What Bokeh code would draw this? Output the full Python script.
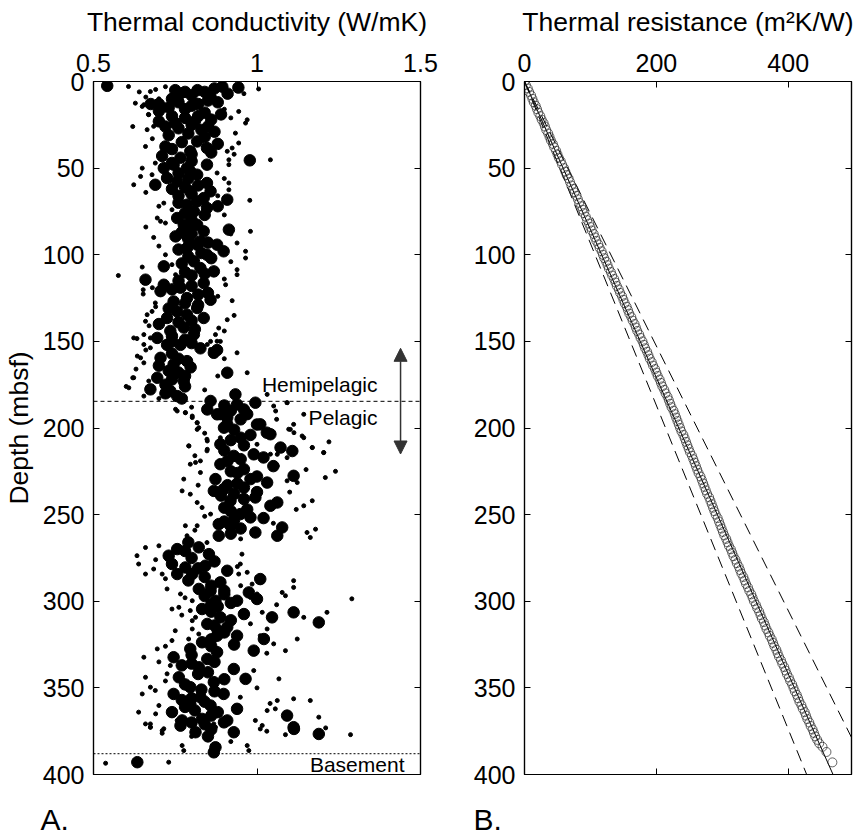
from bokeh.plotting import figure
from bokeh.layouts import row, column
from bokeh.models import (Range1d, LinearAxis, FixedTicker, Span, Label, Arrow,
                          NormalHead)
from bokeh.embed import file_html
from bokeh.resources import INLINE

FONT = "Liberation Sans"

# ---------------- Panel A data: thermal conductivity vs depth ----------------
# large symbols
big_depth = [
    2.5, 3, 3.5, 5, 6, 7, 5, 9, 8, 10, 6,
    13, 13, 15, 12, 16, 13, 18, 12, 20, 21, 23, 22, 19, 26, 27, 25, 28, 29, 30, 24,
    34.6, 37.5, 38.4, 40.3, 45.5, 48, 50, 48, 44, 50, 55.7, 57.7, 51.9, 53.8, 59.6,
    58.6, 63.4, 68.2, 63.4, 69.2, 67.3, 71.1, 75, 73, 78.8, 82.7, 82.7, 86.5, 92.3,
    85.5, 89.4, 96.1, 94.2, 100, 94.2, 98, 103.8, 107.7, 109.6, 106.7, 114.4, 116.3,
    117.3, 121, 119, 125, 127, 126, 136.5, 132.7, 134.6, 130.7, 136.5, 144, 142, 146,
    148, 152, 154, 155, 42, 61, 66, 77, 88, 101, 112, 123, 139, 150,
    152, 156.6, 159.5, 163.3, 161.4, 165, 168.1, 171, 177.7, 178.7, 181.6, 173, 168, 175,
    180.6, 184.4, 189.3, 192.1, 194, 186.4, 189.3, 185.4, 192, 198, 202.7, 199.8,
    205.6, 209.4, 211.3, 213.3, 215.2, 216.1,
    197.9, 203.6, 220.9, 223.8, 227.6, 231.5, 229.5, 229.5, 235.3, 234.4, 236.3, 242,
    240.1, 243, 244.9, 249.7, 251.6, 255.5, 256.4, 260.3, 257.4, 262.2, 262.2, 225,
    218, 246, 238, 253, 232, 192, 197.9,
    269.9, 273.7, 268.9, 272.8, 278.5, 280.5, 279.5, 282.4, 284.3, 284.3, 289.1, 287.2,
    293.9, 294.9, 298.7, 292.9, 299.7, 299.7, 304.5, 307.4, 309.3, 306.4, 312.2, 309.3,
    313.1, 315, 319.9, 319.9, 321.8, 323.7, 327.5, 329.4, 328.5, 332.3, 333.3, 338.1,
    339.1, 343.9, 344.8, 349.6, 346.7, 353.5, 355.4, 353.5, 359.2, 360.2, 362.1, 364,
    366, 368.8, 367.9, 368.8, 372.7,
    371.8, 375.6, 375.6, 369.9, 373.7, 376.6, 384.3, 387.2, 392.9, 296, 302, 317, 326,
    336, 341, 351, 357, 364, 371,
    4, 7, 11, 14, 17, 20, 23, 26, 31, 32, 35, 36, 39, 41, 43, 46, 47, 53, 56, 60,
    62, 65, 70, 72, 76, 80, 84, 87, 91, 93, 97, 99, 102, 105, 110, 111, 115, 118,
    120, 122, 128, 129, 131, 138, 140, 143, 147, 149, 151, 157, 160, 164, 167, 170,
    172, 176, 180, 183,
    187, 190, 195, 201, 204, 207, 210, 213, 217, 219, 222, 226, 228, 233, 237, 239,
    241, 247, 248, 252, 254, 258, 261,
    266, 271, 275, 277, 281, 286, 288, 291, 294, 297, 301, 303, 306, 311, 314, 318,
    322, 325, 331, 335, 337, 342, 345, 348, 352, 356, 358, 361, 363, 366, 370, 374, 378,
]
big_k = [
    0.542, 0.894, 0.943, 0.75, 0.78, 0.765, 0.818, 0.858, 0.80, 0.74, 0.84,
    0.675, 0.70, 0.73, 0.76, 0.78, 0.82, 0.84, 0.88, 0.74, 0.78, 0.81, 0.86, 0.89, 0.72, 0.76, 0.80, 0.83, 0.87, 0.79, 0.75,
    0.817, 0.72, 0.847, 0.796, 0.978, 0.847, 0.715, 0.745, 0.766, 0.786, 0.725, 0.756, 0.796, 0.817, 0.689,
    0.847, 0.858, 0.909, 0.796, 0.817, 0.837, 0.786, 0.807, 0.847, 0.756, 0.776, 0.817, 0.837, 0.827,
    0.914, 0.751, 0.786, 0.817, 0.847, 0.878, 0.898, 0.807, 0.827, 0.868, 0.715, 0.659, 0.837,
    0.715, 0.705, 0.766, 0.786, 0.745, 0.858, 0.725, 0.756, 0.786, 0.817, 0.837, 0.735, 0.776, 0.807,
    0.695, 0.766, 0.827, 0.878, 0.80, 0.78, 0.76, 0.84, 0.80, 0.79, 0.80, 0.82, 0.76, 0.74,
    0.725, 0.868, 0.705, 0.745, 0.786, 0.797, 0.909, 0.695, 0.674, 0.735, 0.756, 0.776, 0.76, 0.72,
    0.934, 0.858, 0.848, 0.878, 0.909, 0.939, 0.96, 0.995, 0.97, 1.0, 1.03, 0.899,
    0.95, 0.888, 1.072, 1.108, 0.99, 0.929,
    1.01, 1.041, 0.888, 0.96, 1.112, 1.031, 0.873, 0.98, 0.898, 0.96, 0.868, 0.919,
    0.995, 1.062, 1.041, 0.949, 0.98, 0.883, 0.919, 0.995, 1.077, 1.062, 0.883, 0.92,
    0.95, 0.90, 0.93, 0.93, 0.94, 0.888, 0.909,
    0.756, 0.73, 0.822, 0.853, 0.74, 0.781, 0.842, 0.909, 0.756, 0.802, 0.888, 1.01,
    0.858, 0.975, 1.0, 0.822, 0.939, 0.873, 0.832, 0.96, 1.046, 1.112, 1.189, 0.888,
    0.848, 0.909, 0.878, 0.939, 1.021, 0.832, 0.796, 0.878, 0.99, 0.745, 0.848, 0.822,
    0.929, 0.761, 0.965, 0.796, 0.868, 0.745, 0.827, 0.898, 0.796, 0.858, 0.939, 0.74,
    1.092, 0.771, 0.832, 0.909, 1.112,
    0.766, 0.812, 0.929, 0.899, 1.113, 1.189, 0.873, 0.868, 0.634, 0.90, 0.86, 0.88, 0.86,
    0.80, 0.85, 0.83, 0.77, 0.88, 0.84,
    0.87, 0.91, 0.85, 0.80, 0.70, 0.82, 0.70, 0.85, 0.73, 0.84, 0.77, 0.88, 0.74, 0.86, 0.71, 0.80, 0.74, 0.76, 0.79, 0.82,
    0.74, 0.80, 0.76, 0.88, 0.78, 0.80, 0.79, 0.77, 0.79, 0.85, 0.76, 0.83, 0.86, 0.77, 0.78, 0.84, 0.76, 0.80,
    0.74, 0.85, 0.78, 0.82, 0.73, 0.80, 0.70, 0.81, 0.74, 0.78, 0.80, 0.74, 0.76, 0.70, 0.73, 0.78,
    0.74, 0.78, 0.72, 0.77,
    0.90, 0.92, 0.95, 0.93, 0.98, 0.92, 0.96, 0.90, 1.02, 0.91, 1.05, 0.94, 1.00, 0.91, 1.00, 0.89,
    0.96, 0.97, 0.92, 1.02, 0.90, 0.95, 0.92,
    0.79, 0.78, 0.80, 0.87, 0.82, 0.84, 0.79, 0.86, 0.90, 0.84, 0.92, 0.88, 0.86, 0.92, 0.87, 0.90,
    0.86, 0.93, 0.80, 0.87, 0.77, 0.82, 0.90, 0.78, 0.87, 0.80, 0.84, 0.78, 0.81, 0.86, 0.80, 0.86, 0.85,
]

# small symbols
small_depth = [
    2.9, 4.3, 5.8, 4.6, 12.5, 14.4, 19, 3, 4, 8, 10, 7, 2, 9,
    13.4, 19.2, 25.9, 27.8, 37.5, 17.3, 22.1, 24, 29.8, 35.5,
    45.2, 45.2, 48, 40.3, 50, 54.8, 59.6, 53.8, 50, 47.1,
    52.8, 58.6, 62.5, 68.6, 70.2, 74, 78.8, 80.7, 81.7, 90,
    93.2, 86.5, 98, 101.9, 108.6, 111.5, 117.3, 126.5, 107.1, 120.2,
    122.7, 127.8, 132.7, 134.6, 138.4, 146.1, 148, 148.4, 137.5, 142.3,
    150, 150, 146.1, 111.5, 105.7, 100, 72, 90.3, 38.4, 112, 176, 171,
    148, 151.8, 153.7, 158.5, 162.4, 159.5, 171, 176.8, 181.6, 172.9,
    151.8, 149.9, 154.7, 156.6, 168.1, 190.2, 191.2, 193.1, 197, 200.8,
    210.4, 207.5, 205.6, 212.3, 187.3, 190.2, 185.4, 180.6, 192.1, 205.6,
    200.8, 202.7, 211.3, 214.2, 215.2, 217.1,
    189.2, 191.1, 194, 196.9, 199.8, 210.3, 206.5, 213.2, 219, 219.9,
    220.9, 225.7, 229.5, 236.3, 238.2, 243, 245.9, 249.7, 256.4, 256.4,
    262.2, 266.1, 272.8, 269, 273.7, 278.5, 284.3, 281.4, 284.3, 275.7,
    292.9, 295.8, 304.5, 303.5, 299.7, 305.4, 309.3, 311.2, 316, 322.7,
    321.8, 318.9, 327.5, 332.3, 337.1, 341.9, 343.9, 349.6, 353.5, 351.5,
    360.2, 368.8, 370.8, 372.7, 373.6, 364, 209.4, 215.1, 213.2, 221.9,
    230.5, 231.5, 244.9, 242, 260.3, 263.2, 258.4, 228.6, 211.3, 214.2,
    204.6, 197.9, 200.7, 185.4, 286.2, 289.1, 290.1, 297.8, 295.8, 306.4,
    316, 319.9, 324.6, 321.8, 328.5, 344.8, 306.4, 309.3, 306.4, 278.5,
    284.3, 283.3, 288.1, 292, 294.9, 296.8, 338.1, 355.4, 363.1, 362.1,
    368.8, 371.7, 366.9, 357.3, 356.3, 357.3, 298.6, 225, 208,
    370.8, 372.7, 374.7, 376.2, 383.3, 386.2, 370.8, 372.7, 383.3, 386.2,
    373.7, 375, 377, 373.1, 377, 393.5, 392.9,
    6, 16, 21, 26, 33, 42, 56, 64, 66, 77, 84, 88, 95, 104, 114, 119, 124, 130,
    135, 141, 144, 155, 160, 166, 170, 178, 183,
    188, 195, 203, 216, 224, 233, 237, 247, 251, 255, 259, 264,
    268, 276, 280, 287, 291, 298, 302, 308, 313, 317, 326, 330, 335, 340, 346, 350,
    355, 359, 365, 378, 381,
]
small_k = [
    0.607, 1.005, 0.674, 0.69, 0.628, 0.649, 0.668, 0.72, 0.86, 0.92, 0.70, 0.96, 0.95, 0.66,
    0.654, 0.669, 0.684, 0.664, 0.659, 0.944, 0.97, 0.965, 0.934, 0.944,
    1.041, 0.914, 0.914, 0.909, 0.649, 0.644, 0.623, 0.679, 0.71, 0.689,
    0.878, 0.914, 0.914, 0.978, 0.715, 0.74, 0.695, 0.705, 0.72, 0.684,
    0.939, 0.98, 0.965, 0.965, 0.939, 0.939, 0.904, 0.924, 0.649, 0.652,
    0.652, 0.689, 0.679, 0.664, 0.659, 0.654, 0.674, 0.633, 0.909, 0.883,
    0.888, 0.858, 0.873, 0.751, 0.74, 0.72, 0.70, 0.776, 0.924, 0.576, 0.60, 0.62,
    0.623, 0.654, 0.674, 0.634, 0.654, 0.644, 0.623, 0.608, 0.654, 0.669,
    0.848, 0.878, 0.858, 0.939, 0.97, 0.756, 0.781, 0.802, 0.817, 0.817,
    0.792, 0.848, 0.888, 0.848, 1.051, 1.057, 1.092, 1.031, 1.143, 1.143,
    1.102, 1.113, 1.169, 1.204, 1.062, 1.092,
    0.751, 0.781, 0.802, 0.817, 0.822, 0.791, 0.847, 0.847, 0.827, 0.812,
    0.796, 0.827, 0.776, 0.771, 0.796, 0.817, 0.832, 0.858, 0.781, 0.817,
    0.786, 0.847, 0.954, 0.659, 0.633, 0.638, 0.659, 0.684, 0.71, 0.725,
    0.725, 0.766, 0.74, 0.761, 0.802, 0.796, 0.812, 0.802, 0.802, 0.74,
    0.791, 0.822, 0.695, 0.654, 0.735, 0.725, 0.659, 0.674, 0.649, 0.689,
    0.70, 0.756, 0.659, 0.674, 0.715, 0.638, 1.0, 1.041, 1.067, 1.062,
    1.092, 1.123, 1.143, 1.169, 1.153, 1.163, 1.179, 1.209, 1.169, 1.204,
    1.138, 1.112, 1.097, 1.092, 1.0, 1.01, 0.985, 0.98, 1.0, 1.016,
    1.031, 1.01, 1.051, 1.123, 1.087, 1.067, 1.112, 1.143, 1.214, 0.949,
    0.944, 0.97, 1.112, 1.112, 1.077, 1.087, 0.924, 0.949, 1.031, 1.056,
    0.995, 1.016, 1.189, 1.163, 1.112, 1.062, 1.29, 1.24, 1.22,
    0.674, 0.674, 0.71, 0.71, 0.771, 0.776, 0.868, 0.873, 0.97, 0.975,
    1.01, 1.03, 1.087, 1.21, 1.286, 0.537, 0.73,
    0.64, 0.90, 0.92, 0.62, 0.68, 0.93, 0.90, 0.66, 0.88, 0.90, 0.66, 0.92, 0.70, 0.92, 0.90, 0.68, 0.88, 0.69,
    0.93, 0.67, 0.90, 0.66, 0.90, 0.63, 0.88, 0.84, 0.70,
    0.80, 1.06, 0.84, 0.81, 1.15, 0.82, 1.10, 1.12, 0.84, 1.05, 0.81, 0.95,
    0.70, 0.69, 0.94, 0.72, 0.95, 0.78, 1.06, 0.77, 0.98, 0.75, 0.72, 1.03, 0.70, 0.99, 0.72, 1.00,
    0.75, 1.04, 0.69, 0.80, 0.92,
]

assert len(big_depth) == len(big_k), (len(big_depth), len(big_k))
assert len(small_depth) == len(small_k), (len(small_depth), len(small_k))

# unit boundaries and annotations (depth, mbsf)
hemi_pelagic_depth = 184.6
basement_depth = 388
arrow_top_depth = 154
arrow_bottom_depth = 215

# ---------------- Panel B data: thermal resistance vs depth ----------------
res_depth = [
    0, 2, 4, 6, 8, 10, 12, 14, 16, 18, 20, 22, 24, 26, 28, 30, 32, 34, 36, 38,
    40, 42, 44, 46, 48, 50, 52, 54, 56, 58, 60, 62, 64, 66, 68, 70, 72, 74, 76, 78,
    80, 82, 84, 86, 88, 90, 92, 94, 96, 98, 100, 102, 104, 106, 108, 110, 112, 114, 116, 118,
    120, 122, 124, 126, 128, 130, 132, 134, 136, 138, 140, 142, 144, 146, 148, 150, 152, 154, 156, 158,
    160, 162, 164, 166, 168, 170, 172, 174, 176, 178, 180, 182, 184, 186, 188, 190, 192, 194, 196, 198,
    200, 202, 204, 206, 208, 210, 212, 214, 216, 218, 220, 222, 224, 226, 228, 230, 232, 234, 236, 238,
    240, 242, 244, 246, 248, 250, 252, 254, 256, 258, 260, 262, 264, 266, 268, 270, 272, 274, 276, 278,
    280, 282, 284, 286, 288, 290, 292, 294, 296, 298, 300, 302, 304, 306, 308, 310, 312, 314, 316, 318,
    320, 322, 324, 326, 328, 330, 332, 334, 336, 338, 340, 342, 344, 346, 348, 350, 352, 354, 356, 358,
    360, 362, 364, 366, 368, 370, 372, 374, 376, 378, 380, 382, 384, 387, 393,
]
res_R = [
    0, 2, 5, 7, 10, 12, 14, 17, 19, 21, 24, 26, 29, 31, 33, 36, 38, 40, 43, 45,
    48, 50, 52, 55, 57, 60, 62, 64, 67, 69, 71, 74, 76, 79, 81, 83, 86, 88, 90, 93,
    95, 98, 100, 102, 105, 107, 109, 112, 114, 117, 119, 121, 124, 126, 128, 131, 133, 136, 138, 140,
    143, 145, 148, 150, 152, 155, 157, 159, 162, 164, 167, 169, 171, 174, 176, 179, 181, 183, 186, 188,
    190, 193, 195, 198, 200, 202, 205, 207, 209, 212, 214, 217, 219, 221, 223, 226, 228, 230, 232, 234,
    236, 238, 241, 243, 245, 247, 249, 251, 254, 256, 258, 260, 262, 264, 267, 269, 271, 273, 275, 277,
    280, 282, 284, 286, 288, 290, 293, 295, 297, 299, 301, 303, 306, 308, 310, 313, 315, 317, 320, 322,
    325, 327, 329, 332, 334, 336, 339, 341, 344, 346, 348, 351, 353, 356, 358, 360, 363, 365, 367, 370,
    372, 375, 377, 379, 382, 384, 386, 389, 391, 394, 396, 398, 401, 403, 406, 408, 410, 413, 415, 417,
    420, 422, 425, 427, 429, 432, 434, 437, 439, 441, 444, 447, 452, 458, 467,
]
fit_depth = [0, 400]
fit_R = [0, 468]
bound_lo_R = [0, 428]
bound_hi_R = [0, 524]

depth_ticks = [0, 50, 100, 150, 200, 250, 300, 350, 400]
k_ticks = [0.5, 1, 1.5]
r_ticks = [0, 200, 400]

panel_letters = ["A.", "B."]

assert len(res_depth) == len(res_R), (len(res_depth), len(res_R))


def style_axis(ax, size="25px"):
    ax.major_label_text_font = FONT
    ax.major_label_text_font_size = size
    ax.major_label_text_color = "black"
    ax.axis_label_text_font = FONT
    ax.axis_label_text_font_style = "normal"
    ax.axis_label_text_color = "black"
    ax.axis_label_text_font_size = "26.5px"
    ax.axis_line_color = "black"
    ax.axis_line_width = 1.2
    ax.major_tick_line_color = "black"
    ax.major_tick_in = 6
    ax.major_tick_out = 0
    ax.minor_tick_line_color = None


def mirror_axes(p, xticks, yticks):
    b = LinearAxis(ticker=FixedTicker(ticks=xticks))
    r = LinearAxis(ticker=FixedTicker(ticks=yticks))
    b.major_label_overrides = {t: "" for t in xticks}
    r.major_label_overrides = {t: "" for t in yticks}
    for ax in (b, r):
        style_axis(ax)
        ax.major_label_standoff = 0
    p.add_layout(b, "below")
    p.add_layout(r, "right")


def base_figure(width, left, right, xr, xticks, xlabel, ylabel):
    p = figure(width=width, height=800, x_range=xr, y_range=Range1d(400, 0),
               x_axis_location="above", output_backend="svg", toolbar_location=None,
               min_border_left=left, min_border_right=right, min_border_top=81,
               min_border_bottom=26)
    p.grid.visible = False
    p.outline_line_color = "black"
    p.outline_line_width = 1.2
    p.background_fill_color = "white"
    p.border_fill_color = "white"
    xa = p.xaxis[0]
    ya = p.yaxis[0]
    style_axis(xa)
    style_axis(ya)
    xa.ticker = FixedTicker(ticks=xticks)
    ya.ticker = FixedTicker(ticks=depth_ticks)
    xa.axis_label = xlabel
    xa.major_label_standoff = 10
    xa.axis_label_standoff = 14
    ya.major_label_standoff = 9
    ya.axis_label_standoff = 6
    if ylabel:
        ya.axis_label = ylabel
    mirror_axes(p, xticks, depth_ticks)
    return p


# ---------------- Panel A ----------------
p1 = base_figure(440, 93, 20, Range1d(0.5, 1.5), k_ticks,
                 "Thermal conductivity (W/mK)", "Depth (mbsf)")
p1.xaxis[0].major_label_overrides = {0.5: "0.5", 1: "1", 1.5: "1.5"}

p1.scatter(x=small_k, y=small_depth, size=4, marker="circle",
           fill_color="black", line_color="black")
p1.scatter(x=big_k, y=big_depth, size=11.5, marker="circle",
           fill_color="black", line_color="black")

p1.add_layout(Span(location=hemi_pelagic_depth, dimension="width", line_color="black",
                   line_width=1, line_dash="4 3"))
p1.add_layout(Span(location=basement_depth, dimension="width", line_color="black",
                   line_width=1, line_dash="2 2"))

head_kw = dict(size=13, fill_color="#333333", line_color="#333333")
p1.add_layout(Arrow(start=NormalHead(**head_kw), end=NormalHead(**head_kw),
                    x_start=1.439, y_start=arrow_top_depth,
                    x_end=1.439, y_end=arrow_bottom_depth,
                    line_color="#333333", line_width=1.5))

ann_kw = dict(text_font=FONT, text_font_size="21px", text_color="black",
              text_align="right", text_baseline="middle")
p1.add_layout(Label(x=1.3685, y=175, text="Hemipelagic", **ann_kw))
p1.add_layout(Label(x=1.3685, y=194, text="Pelagic", **ann_kw))
p1.add_layout(Label(x=1.451, y=394, text="Basement", **ann_kw))

# ---------------- Panel B ----------------
p2 = base_figure(421, 84, 10, Range1d(0, 496), r_ticks,
                 "Thermal resistance (m²K/W)", None)

p2.line(x=bound_lo_R, y=fit_depth, line_color="black", line_width=1, line_dash="12 7")
p2.line(x=bound_hi_R, y=fit_depth, line_color="black", line_width=1, line_dash="12 7")
p2.line(x=fit_R, y=fit_depth, line_color="black", line_width=1)
p2.scatter(x=res_R, y=res_depth, size=9, marker="circle", fill_color=None,
           line_color="#222222", line_width=0.7)

# ---------------- panel letters strip ----------------
strip = figure(width=861, height=40, x_range=Range1d(0, 861), y_range=Range1d(40, 0),
               output_backend="svg", toolbar_location=None,
               x_axis_location=None, y_axis_location=None, min_border=0,
               min_border_left=0, min_border_right=0, min_border_top=0,
               min_border_bottom=0)
strip.grid.visible = False
strip.outline_line_color = None
strip.background_fill_color = "white"
strip.border_fill_color = "white"
letter_kw = dict(text_font=FONT, text_font_size="30px", text_color="black",
                 text_align="left", text_baseline="alphabetic")
strip.add_layout(Label(x=40, y=19, text=panel_letters[0], **letter_kw))
strip.add_layout(Label(x=473, y=19, text=panel_letters[1], **letter_kw))

layout = column(row(p1, p2), strip)
open("out.html", "w").write(file_html(layout, INLINE))
